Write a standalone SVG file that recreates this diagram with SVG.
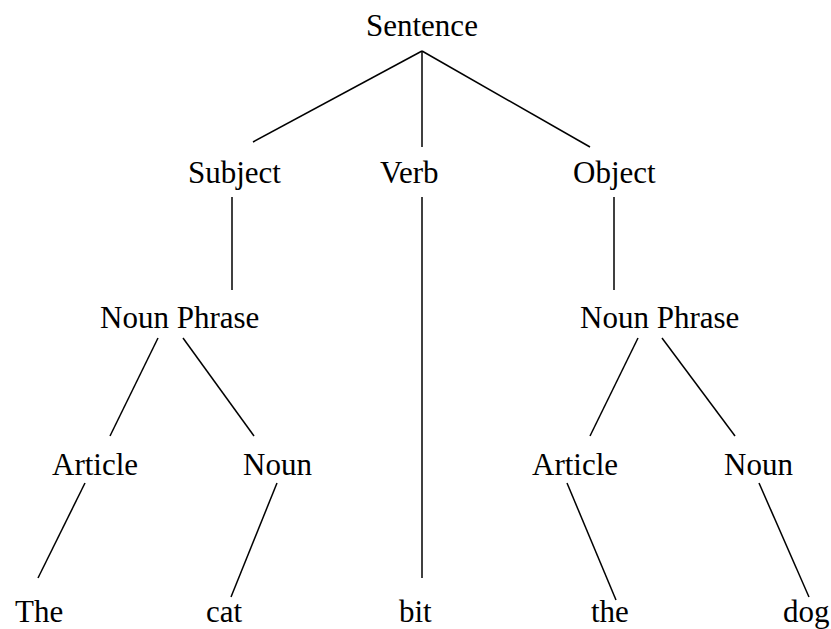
<svg xmlns="http://www.w3.org/2000/svg" width="831" height="629" viewBox="0 0 831 629">
<style>
text { font-family: "Liberation Serif", "Times New Roman", "DejaVu Serif", serif; font-size: 31px; fill: #000; }
line { stroke: #000; stroke-width: 1.5; }
</style>
<rect width="831" height="629" fill="#fff"/>
<g id="connectors">
<line x1="422" y1="51" x2="253" y2="142"/>
<line x1="422" y1="51" x2="422" y2="147"/>
<line x1="422" y1="51" x2="590" y2="147"/>
<line x1="232" y1="197" x2="232" y2="290"/>
<line x1="422" y1="197" x2="422" y2="578"/>
<line x1="614" y1="197" x2="614" y2="290"/>
<line x1="158" y1="338" x2="110" y2="436"/>
<line x1="183" y1="338" x2="254" y2="436"/>
<line x1="638" y1="338" x2="590" y2="436"/>
<line x1="662" y1="338" x2="735" y2="436"/>
<line x1="85" y1="483" x2="38" y2="578"/>
<line x1="277" y1="483" x2="231" y2="597"/>
<line x1="567" y1="483" x2="616" y2="600"/>
<line x1="759" y1="483" x2="809" y2="597"/>
</g>
<g id="sentence"><text x="366" y="36" font-family="Liberation Serif, serif">Sentence</text></g>
<g id="subject"><text x="188" y="183" font-family="Liberation Serif, serif">Subject</text></g>
<g id="verb"><text x="380" y="183" font-family="Liberation Serif, serif">Verb</text></g>
<g id="object"><text x="573" y="183" font-family="Liberation Serif, serif">Object</text></g>
<g id="np-left"><text x="100" y="328" font-family="Liberation Serif, serif">Noun Phrase</text></g>
<g id="np-right"><text x="580" y="328" font-family="Liberation Serif, serif">Noun Phrase</text></g>
<g id="article-left"><text x="52" y="475" font-family="Liberation Serif, serif">Article</text></g>
<g id="noun-left"><text x="243" y="475" font-family="Liberation Serif, serif">Noun</text></g>
<g id="article-right"><text x="532" y="475" font-family="Liberation Serif, serif">Article</text></g>
<g id="noun-right"><text x="724" y="475" font-family="Liberation Serif, serif">Noun</text></g>
<g id="the-cap"><text x="15" y="622" font-family="Liberation Serif, serif">The</text></g>
<g id="cat"><text x="206" y="622" font-family="Liberation Serif, serif">cat</text></g>
<g id="bit"><text x="399" y="622" font-family="Liberation Serif, serif">bit</text></g>
<g id="the"><text x="591" y="622" font-family="Liberation Serif, serif">the</text></g>
<g id="dog"><text x="783" y="622" font-family="Liberation Serif, serif">dog</text></g>
</svg>
